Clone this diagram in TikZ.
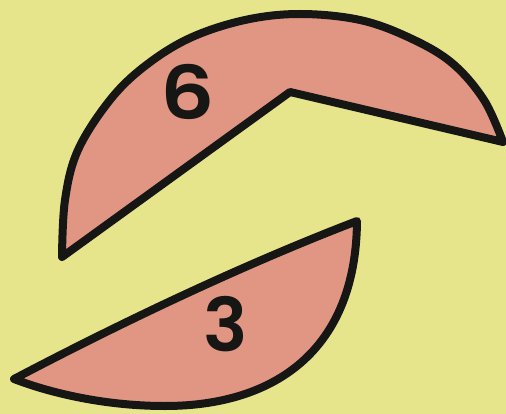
\documentclass[tikz,border=0pt]{standalone}
\usepackage{fontspec}
\setmainfont{Poppins}
\newfontfamily\digfont{Poppins}[UprightFont=* SemiBold]
\definecolor{bgyellow}{RGB}{231,229,140}
\definecolor{piece}{RGB}{225,150,132}
\definecolor{ink}{RGB}{22,22,20}
\tikzset{
  piecefill/.style={fill=piece, draw=ink, line width=8pt, line join=round},
  digit/.style={font=\digfont\fontsize{74}{74}\selectfont, text=ink, inner sep=0pt}
}
\begin{document}
\begin{tikzpicture}[x=1pt,y=-1pt]
\fill[bgyellow] (0,0) rectangle (506,414);
\useasboundingbox (0,0) rectangle (506,414);
% piece 6
\draw[piecefill] (62,257)
  -- plot[smooth, tension=0.6] coordinates {(62,257) (65,200) (78,150) (110,100) (145,66) (190,38) (245,20) (300,14) (360,20) (410,38) (452,63) (484,100) (503,142)}
  -- (290,92) -- cycle;
% piece 3
\draw[piecefill] (14,379)
  .. controls (130,318) and (250,262) .. (357,221)
  .. controls (356,350) and (275,406) .. (165,406)
  .. controls (100,406) and (45,391) .. (14,379) -- cycle;
\node[digit] (six) at (188,92) {\scalebox{1.15}[1]{6}};
\node[digit] (three) at (226,324) {3};
\end{tikzpicture}
\end{document}
